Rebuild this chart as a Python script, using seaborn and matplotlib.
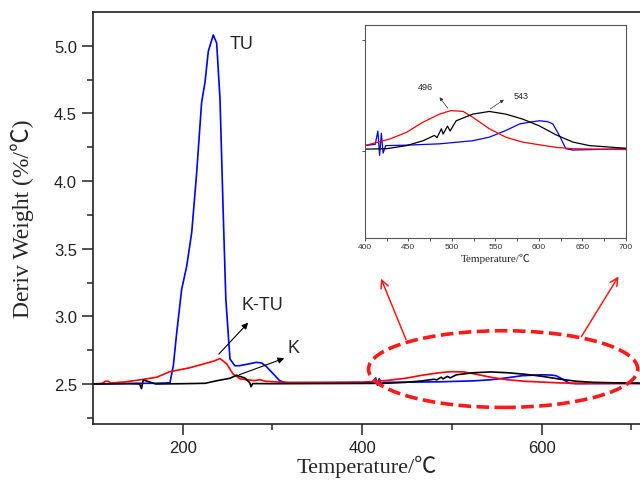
import numpy as np
import pandas as pd
import seaborn as sns
import matplotlib
matplotlib.use("Agg")
import matplotlib.pyplot as plt
from matplotlib.patches import Ellipse

# DTG curves: temperature (°C) and derivative weight (%/°C)
tu_temp = [100, 150, 170, 183, 185.8, 189.5, 193.3, 198.8, 204.4, 210, 215.5, 221, 224.8,
           228.5, 234, 237.8, 241.5, 245.2, 248, 252.6, 258, 263, 275, 282, 288, 293, 301,
           308, 315, 350, 400, 412, 415, 417, 419, 421, 424, 448, 486, 524, 543, 562, 578,
           590, 600.6, 610, 616, 623.5, 631, 639, 700, 710]
tu_deriv = [2.5, 2.505, 2.505, 2.508, 2.51, 2.635, 2.88, 3.2, 3.37, 3.62, 4.06, 4.58, 4.73,
            4.96, 5.08, 5.02, 4.61, 3.74, 3.13, 2.685, 2.635, 2.635, 2.65, 2.66, 2.655, 2.63,
            2.574, 2.524, 2.51, 2.51, 2.512, 2.515, 2.545, 2.49, 2.54, 2.495, 2.512, 2.513,
            2.516, 2.523, 2.531, 2.546, 2.561, 2.565, 2.568, 2.566, 2.561, 2.535, 2.505,
            2.502, 2.505, 2.505]

ktu_temp = [100, 110, 114, 117, 120, 135, 152, 171, 180, 185, 208, 234, 241.5, 249, 256,
            264, 280, 286, 292, 305, 320, 400, 429, 448, 467, 486, 499, 513, 524, 543, 562,
            581, 600, 620, 639, 700, 710]
ktu_deriv = [2.5, 2.505, 2.52, 2.52, 2.507, 2.515, 2.53, 2.55, 2.575, 2.59, 2.62, 2.668,
             2.688, 2.648, 2.574, 2.537, 2.525, 2.532, 2.52, 2.515, 2.51, 2.512, 2.527,
             2.542, 2.565, 2.583, 2.591, 2.589, 2.576, 2.55, 2.531, 2.52, 2.514, 2.508,
             2.505, 2.503, 2.503]

k_temp = [100, 140, 152, 154, 156, 170, 200, 225, 238, 252.6, 260, 264, 269, 273, 275, 276,
          278, 300, 400, 425, 448, 467, 480, 483, 488, 490, 495, 498, 505, 524, 543, 562,
          581, 600, 620, 639, 658, 700, 710]
k_deriv = [2.5, 2.502, 2.5, 2.465, 2.53, 2.5, 2.502, 2.505, 2.524, 2.542, 2.565, 2.555,
           2.545, 2.52, 2.505, 2.48, 2.503, 2.502, 2.504, 2.505, 2.512, 2.523, 2.535, 2.53,
           2.55, 2.538, 2.556, 2.545, 2.568, 2.583, 2.589, 2.583, 2.572, 2.557, 2.536,
           2.52, 2.512, 2.506, 2.505]

series = [("TU", tu_temp, tu_deriv, "#0000ff"),
          ("K-TU", ktu_temp, ktu_deriv, "#ff0000"),
          ("K", k_temp, k_deriv, "#000000")]

sns.set_theme(style="ticks")
plt.rcParams["font.family"] = ["Liberation Sans", "DejaVu Sans"]
serif = ["Liberation Serif", "Noto Sans CJK SC", "DejaVu Serif"]

fig = plt.figure(figsize=(6.4, 4.81), dpi=100)
ax = fig.add_axes([0.1453, 0.1164, 0.8547, 0.8566])

for name, t, d, c in series:
    df = pd.DataFrame({"T": t, "D": d})
    sns.lineplot(data=df, x="T", y="D", ax=ax, color=c, lw=1.2, estimator=None, sort=False)

ax.set_xlim(100, 709.5)
ax.set_ylim(2.204, 5.25)
ax.set_xticks([200, 400, 600])
ax.set_xticks([300, 500, 700], minor=True)
ax.set_yticks([2.5, 3.0, 3.5, 4.0, 4.5, 5.0])
ax.set_yticks([2.25, 2.75, 3.25, 3.75, 4.25, 4.75], minor=True)
ax.set_yticklabels(["2.5", "3.0", "3.5", "4.0", "4.5", "5.0"])
ax.tick_params(which="major", direction="out", length=8, width=1.1, labelsize=12,
               colors="#222222")
ax.tick_params(which="minor", direction="out", length=4, width=1.1)
for s in ax.spines.values():
    s.set_linewidth(1.2)
    s.set_color("#222222")
ax.spines["right"].set_visible(False)
ax.set_xlabel("Temperature/\u2103", family=serif, fontsize=16, labelpad=0)
ax.set_ylabel("Deriv Weight (%/\u2103)", family=serif, fontsize=17, labelpad=14)

# curve labels
ax.text(252, 5.02, "TU", fontsize=13, va="center", ha="left")
ax.text(266, 3.09, "K-TU", fontsize=13, va="center", ha="left")
ax.text(317, 2.77, "K", fontsize=13, va="center", ha="left")
black_arrow = dict(arrowstyle="-|>", color="black", lw=0.8, mutation_scale=9)
ax.annotate("", xy=(275, 2.968), xytext=(238, 2.705), arrowprops=black_arrow)
ax.annotate("", xy=(316, 2.697), xytext=(260, 2.561), arrowprops=black_arrow)

# highlighted high-temperature region
ax.add_patch(Ellipse((557, 2.61), 300, 0.567, fill=False, edgecolor="#ff1a1a", lw=2.6,
                     linestyle=(0, (3.5, 1.5)), clip_on=False, zorder=5))
red_arrow = dict(arrowstyle="->", color="#ff1a1a", lw=1.1, mutation_scale=14)
ax.annotate("", xy=(419.8, 3.298), xytext=(449.9, 2.81), arrowprops=red_arrow)
ax.annotate("", xy=(687.2, 3.313), xytext=(642.6, 2.833), arrowprops=red_arrow)

# zoomed inset 400-700 °C
ins = fig.add_axes([0.570, 0.5025, 0.408, 0.4435])
for name, t, d, c in series:
    df = pd.DataFrame({"T": t, "D": d})
    df = df[(df["T"] >= 395) & (df["T"] <= 705)]
    sns.lineplot(data=df, x="T", y="D", ax=ins, color=c, lw=0.9, estimator=None, sort=False)
ins.set_xlim(400, 700)
ins.set_ylim(2.303, 2.784)
ins.set_xticks(np.arange(400, 701, 50))
ins.set_xticks(np.arange(425, 700, 50), minor=True)
ins.set_yticks([2.5, 2.75])
ins.set_yticklabels([])
ins.tick_params(which="both", direction="out", length=2, width=0.6, labelsize=6,
                pad=1.5, colors="#333333")
for s in ins.spines.values():
    s.set_linewidth(0.8)
    s.set_color("#555555")
ins.set_xlabel("Temperature/\u2103", family=serif, fontsize=8, labelpad=2)
ins.set_ylabel("")
ins.text(470, 2.645, "496", fontsize=6.5, ha="center", va="center")
ins.text(579.6, 2.625, "543", fontsize=6.5, ha="center", va="center")
thin_arrow = dict(arrowstyle="-|>", color="#333333", lw=0.5, mutation_scale=5)
ins.annotate("", xy=(484, 2.626), xytext=(497.4, 2.591), arrowprops=thin_arrow)
ins.annotate("", xy=(562.4, 2.619), xytext=(541.4, 2.591), arrowprops=thin_arrow)

fig.savefig("out.png", dpi=100)
